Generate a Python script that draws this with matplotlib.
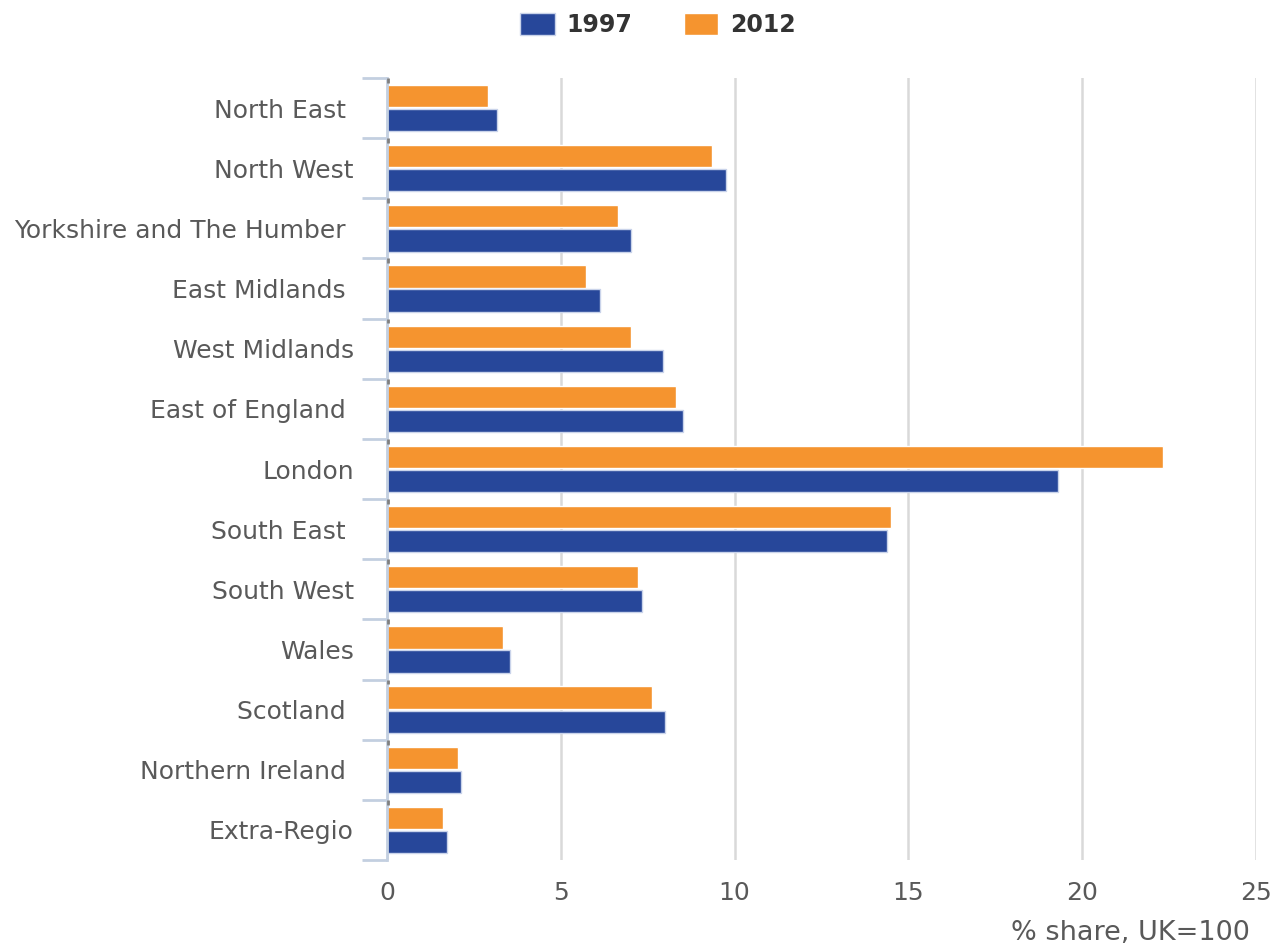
import matplotlib
matplotlib.use("Agg")
import matplotlib.pyplot as plt
import numpy as np

plt.rcParams["font.family"] = ["DejaVu Sans"]

regions = ["North East ", "North West", "Yorkshire and The Humber ", "East Midlands ",
           "West Midlands", "East of England ", "London", "South East ", "South West",
           "Wales", "Scotland ", "Northern Ireland ", "Extra-Regio"]
share_1997 = [3.16, 9.75, 7.02, 6.13, 7.94, 8.52, 19.3, 14.38, 7.34, 3.54, 8.0, 2.13, 1.73]
share_2012 = [2.9, 9.35, 6.65, 5.72, 7.02, 8.31, 22.32, 14.5, 7.22, 3.34, 7.62, 2.04, 1.61]
xticks = [0, 5, 10, 15, 20, 25]

BLUE = "#27479a"
ORANGE = "#f5942f"
GREY = "#595959"

fig = plt.figure(figsize=(12.8, 9.47), dpi=100)
ax = fig.add_axes([387/1280, 1-860/947, (1256-387)/1280, (860-78)/947])

y = np.arange(len(regions))
h = 0.37
ax.barh(y - 0.2, share_2012, height=h, color=ORANGE, edgecolor="white", linewidth=1, zorder=3, label="2012")
ax.barh(y + 0.2, share_1997, height=h, color=BLUE, edgecolor="#c9d3ea", linewidth=1, zorder=3, label="1997")

ax.set_xlim(0, 25)
ax.set_ylim(len(regions) - 0.5, -0.5)
ax.set_xticks(xticks)
ax.set_xticklabels([str(t) for t in xticks])
ax.xaxis.grid(True, color="#d9d9d9", linewidth=1.8, zorder=0)
ax.set_axisbelow(True)

for s in ["top", "right", "bottom"]:
    ax.spines[s].set_visible(False)
ax.spines["left"].set_color("#c3cfe0")
ax.spines["left"].set_linewidth(2)
ax.spines["left"].set_zorder(4)

ax.set_yticks(y)
ax.set_yticklabels(regions)
ax.tick_params(axis="y", length=0, pad=24, labelsize=18, labelcolor=GREY)
ax.set_yticks(np.arange(-0.5, len(regions), 1), minor=True)
ax.tick_params(axis="y", which="minor", length=18, width=2, color="#c3cfe0", direction="out")
ax.tick_params(axis="x", length=0, pad=15, labelsize=18, labelcolor=GREY)

# small dark marks just below each category boundary
for b in np.arange(-0.5, len(regions) - 0.5, 1):
    ax.plot([0.04, 0.04], [b, b + 0.08], color="#808080", linewidth=2, zorder=5, solid_capstyle="butt")

ax.text(1250/1280, 1-933/947, "% share, UK=100", transform=fig.transFigure, ha="right", va="center",
        fontsize=19.5, color=GREY)

handles, labels = ax.get_legend_handles_labels()
leg = fig.legend(handles[::-1], labels[::-1], loc="center", bbox_to_anchor=(658/1280, 1-25/947), ncol=2,
                 frameon=False, prop={"weight": "bold", "size": 17}, handlelength=1.48,
                 handleheight=1.1, columnspacing=2.15, handletextpad=0.5)
for t in leg.get_texts():
    t.set_color("#333333")

fig.savefig("out.png", dpi=100)
